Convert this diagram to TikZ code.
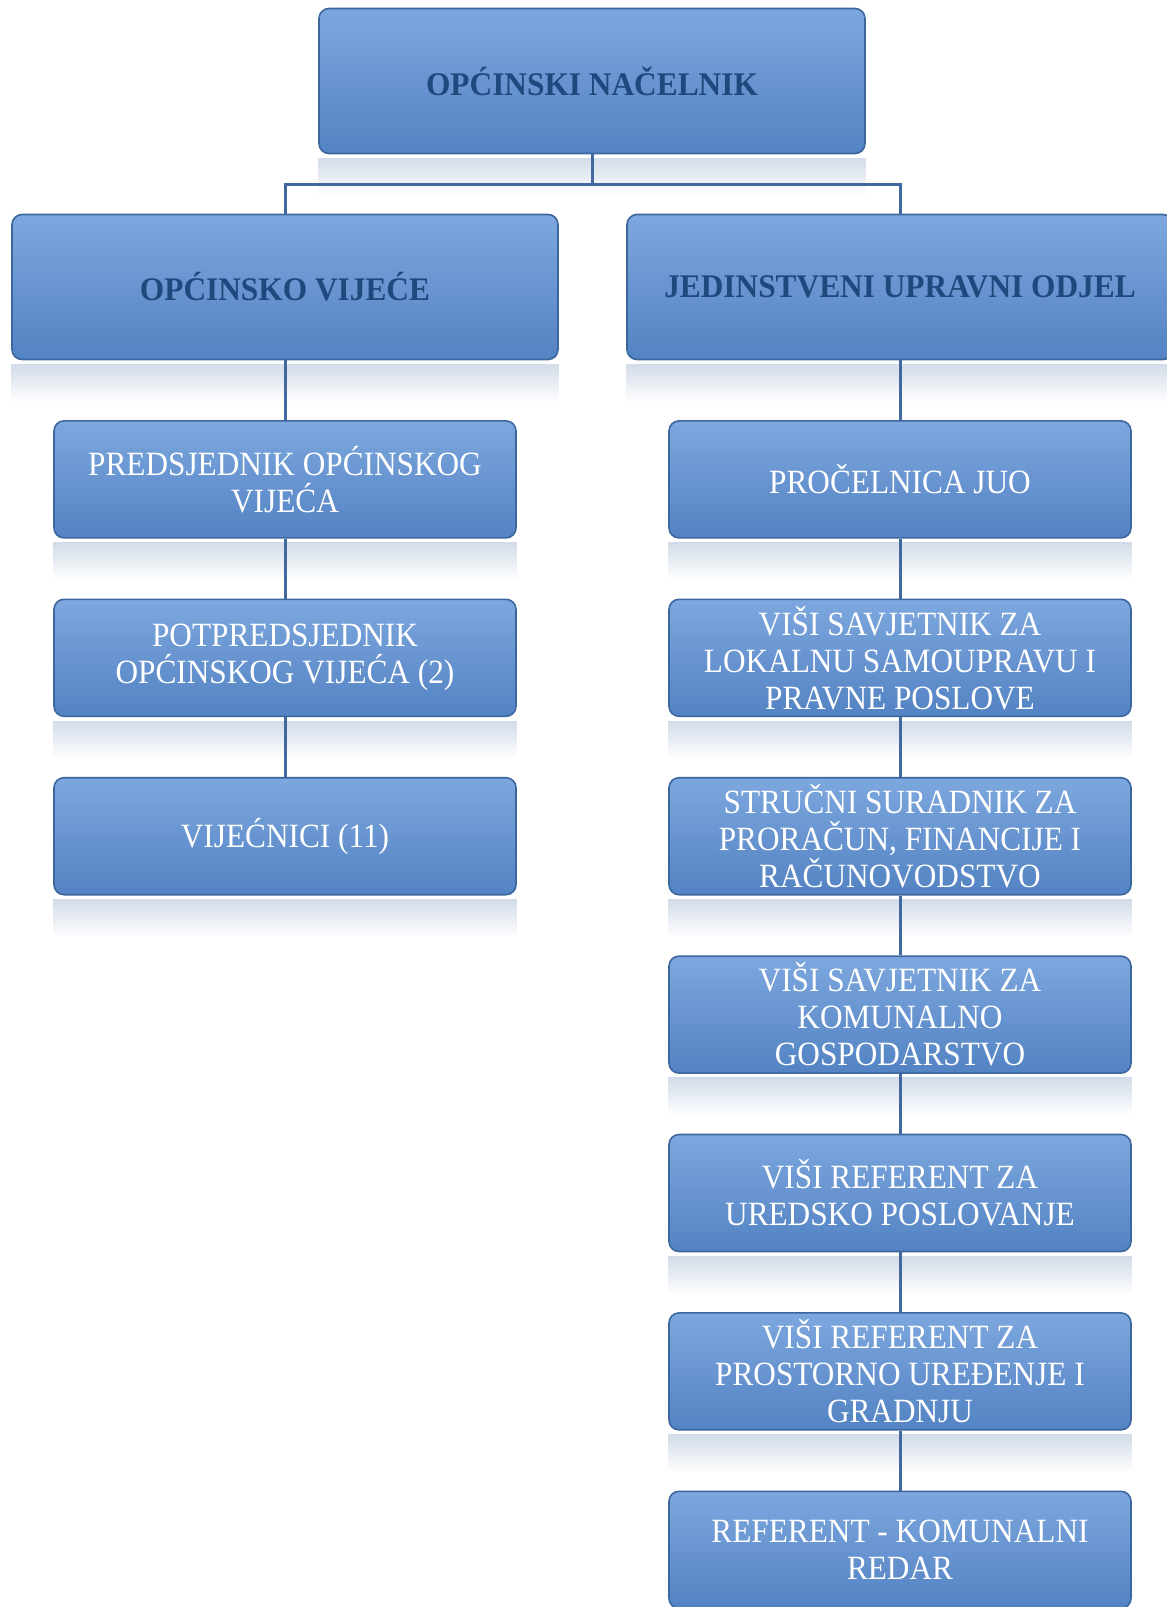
\documentclass[tikz,border=0pt]{standalone}
\usepackage{fontspec}
\setmainfont{Liberation Serif}
\newfontfamily\boxfont{Liberation Serif}[FakeStretch=0.92]
\newfontfamily\headfont{Liberation Serif}[FakeStretch=0.95]
\usetikzlibrary{positioning,calc}

\definecolor{boxtop}{HTML}{7DA7DE}
\definecolor{boxbot}{HTML}{5383C3}
\definecolor{boxline}{HTML}{3C679E}
\definecolor{headtxt}{HTML}{1F497D}
\definecolor{linkcol}{HTML}{41699F}
\definecolor{shadebl}{HTML}{D3DCE9}

% faded reflection under a box
\newcommand{\mirror}[1]{\fill[top color=shadebl,bottom color=white]
  ([yshift=-2pt]#1.south west) rectangle ([yshift=-21pt]#1.south east);}

\begin{document}
\begin{tikzpicture}[x=0.5pt,y=-0.5pt,
    box/.style={draw=boxline,line width=0.8pt,rounded corners=5pt,
      top color=boxtop,bottom color=boxbot,align=center,inner xsep=2pt,inner ysep=0pt},
    headbox/.style={box,minimum width=273pt,minimum height=72.5pt,
      font=\headfont\fontsize{16.5}{18}\selectfont\bfseries,text=headtxt},
    unitbox/.style={box,minimum width=231pt,minimum height=58.5pt,
      font=\boxfont\fontsize{17}{18.5}\selectfont,text=white},
    link/.style={draw=linkcol,line width=1.5pt}
  ]
  \useasboundingbox (0,0) rectangle (1167,1607);

  \node[headbox] (nac) at (592,81) {OPĆINSKI NAČELNIK};
  \node[headbox] (vij) at (285,287) {OPĆINSKO VIJEĆE};
  \node[headbox] (juo) at (900,287) {JEDINSTVENI UPRAVNI ODJEL};

  % left column
  \node[unitbox,below=29.9pt of vij] (pred) {PREDSJEDNIK OPĆINSKOG\\VIJEĆA};
  \node[unitbox,below=29.9pt of pred] (pot) {POTPREDSJEDNIK\\OPĆINSKOG VIJEĆA (2)};
  \node[unitbox,below=29.9pt of pot] (vijc) {VIJEĆNICI (11)};

  % right column
  \node[unitbox,below=29.9pt of juo] (pro) {PROČELNICA JUO};
  \node[unitbox,below=29.9pt of pro] (sav) {VIŠI SAVJETNIK ZA\\LOKALNU SAMOUPRAVU I\\PRAVNE POSLOVE};
  \node[unitbox,below=29.9pt of sav] (str) {STRUČNI SURADNIK ZA\\PRORAČUN, FINANCIJE I\\RAČUNOVODSTVO};
  \node[unitbox,below=29.9pt of str] (kom) {VIŠI SAVJETNIK ZA\\KOMUNALNO\\GOSPODARSTVO};
  \node[unitbox,below=29.9pt of kom] (ured) {VIŠI REFERENT ZA\\UREDSKO POSLOVANJE};
  \node[unitbox,below=29.9pt of ured] (pros) {VIŠI REFERENT ZA\\PROSTORNO UREĐENJE I\\GRADNJU};
  \node[unitbox,below=29.9pt of pros] (red) {REFERENT - KOMUNALNI\\REDAR};

  \foreach \n in {nac,vij,juo,pred,pot,vijc,pro,sav,str,kom,ured,pros,red}
    {\mirror{\n}}

  \draw[link] (nac.south) -- ++(0,30) coordinate (fork) -| (vij.north);
  \draw[link] (fork) -| (juo.north);
  \foreach \a/\b in {vij/pred,pred/pot,pot/vijc,juo/pro,pro/sav,sav/str,str/kom,kom/ured,ured/pros,pros/red}
    \draw[link] (\a.south) -- (\b.north);
\end{tikzpicture}
\end{document}
